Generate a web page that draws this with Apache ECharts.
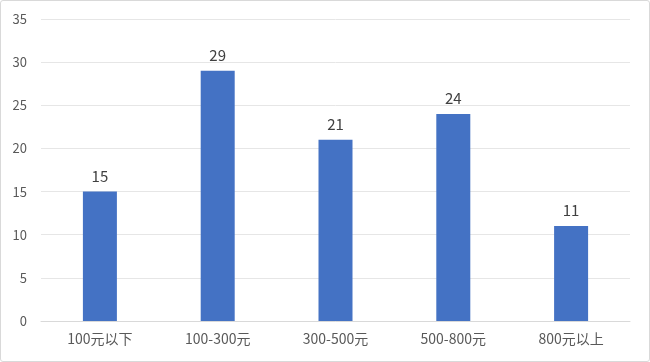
<!DOCTYPE html>
<html><head><meta charset="utf-8">
<script src="https://cdn.jsdelivr.net/npm/echarts@6/dist/echarts.min.js"></script>
<style>html,body{margin:0;padding:0;background:#fff;}#c{width:650px;height:362px;}
#frame{position:absolute;left:0;top:0;width:648px;height:360px;border:1px solid #d9d9d9;border-radius:3px;pointer-events:none;}</style>
</head><body><div id="c"></div><div id="frame"></div>
<script>
const categories = ["100元以下", "100-300元", "300-500元", "500-800元", "800元以上"];
const values = [15, 29, 21, 24, 11];
const yTicks = { min: 0, max: 35, interval: 5 };

const chart = echarts.init(document.getElementById('c'));
chart.setOption({
  animation: false,
  textStyle: { fontFamily: '"Noto Sans CJK SC", "Noto Sans", sans-serif' },
  grid: { left: 41, right: 20, top: 19, bottom: 41 },
  xAxis: {
    type: 'category', data: categories,
    axisLine: { lineStyle: { color: '#d9d9d9', width: 1 } },
    axisTick: { show: false },
    axisLabel: { color: '#595959', fontSize: 14, margin: 11 }
  },
  yAxis: {
    type: 'value', min: yTicks.min, max: yTicks.max, interval: yTicks.interval,
    axisLine: { show: false }, axisTick: { show: false },
    axisLabel: { color: '#595959', fontSize: 13, margin: 14 },
    splitLine: { lineStyle: { color: '#e6e6e6', width: 1 } }
  },
  series: [{
    type: 'bar', data: values, barWidth: 34,
    itemStyle: { color: '#4472C4' },
    label: { show: true, position: 'top', color: '#404040', fontSize: 15, distance: 8 }
  }]
});
</script></body></html>
